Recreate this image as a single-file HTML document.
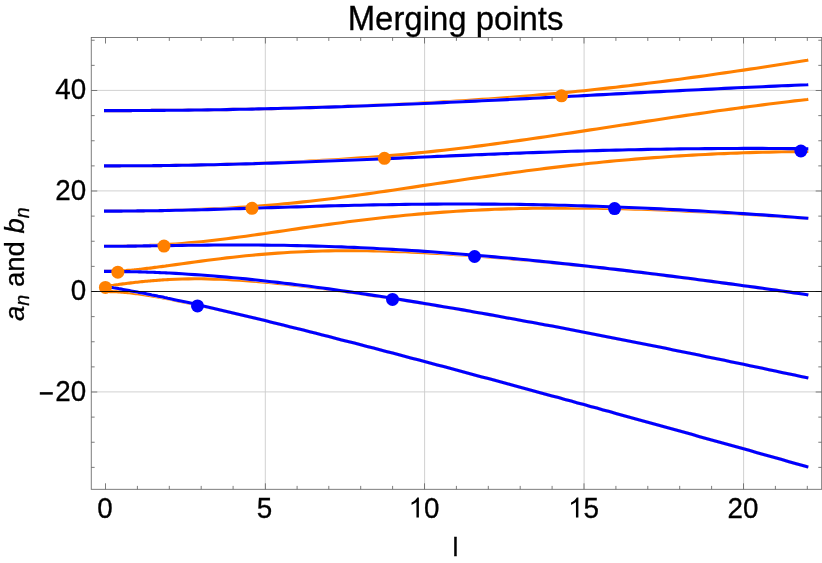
<!DOCTYPE html>
<html><head><meta charset="utf-8"><title>Merging points</title>
<style>
html,body{margin:0;padding:0;background:#fff;}
body{width:822px;height:563px;overflow:hidden;}
svg{display:block;will-change:transform;}
text{font-family:"Liberation Sans",sans-serif;fill:#000;stroke:#000;stroke-width:0.3px;}
</style></head><body>
<svg width="822" height="563" viewBox="0 0 822 563">
<rect x="0" y="0" width="822" height="563" fill="#fff"/>
<g stroke="#cccccc" stroke-width="0.9" fill="none"><line x1="265.30" y1="37.50" x2="265.30" y2="489.30"/><line x1="424.60" y1="37.50" x2="424.60" y2="489.30"/><line x1="584.10" y1="37.50" x2="584.10" y2="489.30"/><line x1="743.60" y1="37.50" x2="743.60" y2="489.30"/><line x1="91.25" y1="90.40" x2="821.70" y2="90.40"/><line x1="91.25" y1="190.90" x2="821.70" y2="190.90"/><line x1="91.25" y1="391.90" x2="821.70" y2="391.90"/></g>
<defs><g id="bl" fill="none" stroke-linecap="butt" stroke-linejoin="round">
<path d="M104.0,286.2 L105.5,286.5 L107.1,286.7 L108.7,287.0 L110.3,287.2 L111.9,287.5 L113.5,287.8 L115.1,288.0 L116.7,288.3 L118.3,288.6 L119.9,288.9 L121.5,289.1 L123.0,289.4 L124.6,289.7 L126.2,290.0 L127.8,290.3 L129.4,290.6 L131.0,290.9 L132.6,291.2 L134.2,291.5 L135.8,291.8 L137.4,292.1 L139.0,292.4 L140.6,292.7 L142.2,293.0 L143.8,293.3 L145.4,293.6 L147.0,293.9 L148.6,294.2 L150.2,294.5 L151.8,294.9 L153.3,295.2 L154.9,295.5 L156.5,295.8 L158.1,296.2 L159.7,296.5 L161.3,296.8 L162.9,297.1 L164.5,297.5 L166.1,297.8 L167.7,298.2 L169.3,298.5 L175.7,299.9 L182.1,301.2 L188.4,302.6 L194.8,304.1 L201.2,305.5 L207.6,307.0 L214.0,308.4 L220.3,309.9 L226.7,311.4 L233.1,312.9 L239.5,314.4 L245.9,315.9 L252.2,317.5 L258.6,319.0 L265.0,320.6 L271.4,322.2 L277.8,323.7 L284.1,325.3 L290.5,326.9 L296.9,328.5 L303.3,330.1 L309.7,331.7 L316.0,333.3 L322.4,335.0 L328.8,336.6 L335.2,338.2 L341.6,339.9 L347.9,341.5 L354.3,343.1 L360.7,344.8 L367.1,346.4 L373.5,348.1 L379.8,349.8 L386.2,351.4 L392.6,353.1 L399.0,354.8 L405.4,356.5 L411.7,358.2 L418.1,359.8 L424.5,361.5 L430.9,363.2 L437.3,364.9 L443.6,366.6 L450.0,368.3 L456.4,370.0 L462.8,371.7 L469.2,373.4 L475.5,375.2 L481.9,376.9 L488.3,378.6 L494.7,380.3 L501.1,382.0 L507.4,383.8 L513.8,385.5 L520.2,387.2 L526.6,389.0 L533.0,390.7 L539.3,392.4 L545.7,394.2 L552.1,395.9 L558.5,397.6 L564.9,399.4 L571.2,401.1 L577.6,402.9 L584.0,404.6 L590.4,406.4 L596.8,408.1 L603.1,409.9 L609.5,411.6 L615.9,413.4 L622.3,415.2 L628.7,416.9 L635.0,418.7 L641.4,420.4 L647.8,422.2 L654.2,424.0 L660.6,425.7 L666.9,427.5 L673.3,429.3 L679.7,431.1 L686.1,432.8 L692.5,434.6 L698.8,436.4 L705.2,438.2 L711.6,439.9 L718.0,441.7 L724.4,443.5 L730.7,445.3 L737.1,447.1 L743.5,448.8 L749.9,450.6 L756.3,452.4 L762.6,454.2 L769.0,456.0 L775.4,457.8 L781.8,459.6 L788.2,461.4 L794.5,463.2 L800.9,465.0 L807.3,466.8 L808.3,467.0"/>
<path d="M104.0,271.4 L105.5,271.4 L107.1,271.4 L108.7,271.4 L110.3,271.4 L111.9,271.4 L113.5,271.4 L115.1,271.4 L116.7,271.5 L118.3,271.5 L119.9,271.5 L121.5,271.5 L123.0,271.5 L124.6,271.6 L126.2,271.6 L127.8,271.6 L129.4,271.6 L131.0,271.7 L132.6,271.7 L134.2,271.7 L135.8,271.8 L137.4,271.8 L139.0,271.9 L140.6,271.9 L142.2,272.0 L143.8,272.0 L145.4,272.0 L147.0,272.1 L148.6,272.2 L150.2,272.2 L151.8,272.3 L153.3,272.3 L154.9,272.4 L156.5,272.5 L158.1,272.5 L159.7,272.6 L161.3,272.7 L162.9,272.7 L164.5,272.8 L166.1,272.9 L167.7,273.0 L169.3,273.0 L175.7,273.4 L182.1,273.8 L188.4,274.2 L194.8,274.6 L201.2,275.0 L207.6,275.5 L214.0,276.0 L220.3,276.6 L226.7,277.1 L233.1,277.7 L239.5,278.3 L245.9,278.9 L252.2,279.6 L258.6,280.3 L265.0,281.0 L271.4,281.7 L277.8,282.4 L284.1,283.2 L290.5,283.9 L296.9,284.7 L303.3,285.5 L309.7,286.3 L316.0,287.2 L322.4,288.0 L328.8,288.9 L335.2,289.8 L341.6,290.7 L347.9,291.6 L354.3,292.5 L360.7,293.5 L367.1,294.4 L373.5,295.4 L379.8,296.3 L386.2,297.3 L392.6,298.3 L399.0,299.3 L405.4,300.4 L411.7,301.4 L418.1,302.4 L424.5,303.5 L430.9,304.5 L437.3,305.6 L443.6,306.7 L450.0,307.8 L456.4,308.8 L462.8,309.9 L469.2,311.1 L475.5,312.2 L481.9,313.3 L488.3,314.4 L494.7,315.6 L501.1,316.7 L507.4,317.9 L513.8,319.0 L520.2,320.2 L526.6,321.4 L533.0,322.6 L539.3,323.7 L545.7,324.9 L552.1,326.1 L558.5,327.3 L564.9,328.5 L571.2,329.8 L577.6,331.0 L584.0,332.2 L590.4,333.4 L596.8,334.7 L603.1,335.9 L609.5,337.2 L615.9,338.4 L622.3,339.7 L628.7,340.9 L635.0,342.2 L641.4,343.5 L647.8,344.7 L654.2,346.0 L660.6,347.3 L666.9,348.6 L673.3,349.9 L679.7,351.2 L686.1,352.5 L692.5,353.8 L698.8,355.1 L705.2,356.4 L711.6,357.7 L718.0,359.0 L724.4,360.3 L730.7,361.7 L737.1,363.0 L743.5,364.3 L749.9,365.7 L756.3,367.0 L762.6,368.3 L769.0,369.7 L775.4,371.0 L781.8,372.4 L788.2,373.7 L794.5,375.1 L800.9,376.5 L807.3,377.8 L808.3,378.0"/>
<path d="M104.0,246.3 L105.5,246.3 L107.1,246.3 L108.7,246.3 L110.3,246.3 L111.9,246.3 L113.5,246.3 L115.1,246.2 L116.7,246.2 L118.3,246.2 L119.9,246.2 L121.5,246.2 L123.0,246.2 L124.6,246.2 L126.2,246.2 L127.8,246.1 L129.4,246.1 L131.0,246.1 L132.6,246.1 L134.2,246.1 L135.8,246.1 L137.4,246.0 L139.0,246.0 L140.6,246.0 L142.2,246.0 L143.8,245.9 L145.4,245.9 L147.0,245.9 L148.6,245.9 L150.2,245.9 L151.8,245.8 L153.3,245.8 L154.9,245.8 L156.5,245.8 L158.1,245.7 L159.7,245.7 L161.3,245.7 L162.9,245.7 L164.5,245.6 L166.1,245.6 L167.7,245.6 L169.3,245.6 L175.7,245.5 L182.1,245.4 L188.4,245.3 L194.8,245.2 L201.2,245.2 L207.6,245.1 L214.0,245.0 L220.3,245.0 L226.7,245.0 L233.1,245.0 L239.5,245.0 L245.9,245.0 L252.2,245.0 L258.6,245.0 L265.0,245.1 L271.4,245.2 L277.8,245.2 L284.1,245.3 L290.5,245.5 L296.9,245.6 L303.3,245.7 L309.7,245.9 L316.0,246.1 L322.4,246.3 L328.8,246.5 L335.2,246.7 L341.6,246.9 L347.9,247.2 L354.3,247.4 L360.7,247.7 L367.1,248.0 L373.5,248.3 L379.8,248.7 L386.2,249.0 L392.6,249.4 L399.0,249.7 L405.4,250.1 L411.7,250.5 L418.1,250.9 L424.5,251.4 L430.9,251.8 L437.3,252.3 L443.6,252.7 L450.0,253.2 L456.4,253.7 L462.8,254.2 L469.2,254.7 L475.5,255.2 L481.9,255.8 L488.3,256.3 L494.7,256.9 L501.1,257.5 L507.4,258.0 L513.8,258.6 L520.2,259.2 L526.6,259.8 L533.0,260.5 L539.3,261.1 L545.7,261.7 L552.1,262.4 L558.5,263.1 L564.9,263.7 L571.2,264.4 L577.6,265.1 L584.0,265.8 L590.4,266.5 L596.8,267.2 L603.1,267.9 L609.5,268.7 L615.9,269.4 L622.3,270.1 L628.7,270.9 L635.0,271.7 L641.4,272.4 L647.8,273.2 L654.2,274.0 L660.6,274.8 L666.9,275.6 L673.3,276.4 L679.7,277.2 L686.1,278.0 L692.5,278.8 L698.8,279.7 L705.2,280.5 L711.6,281.4 L718.0,282.2 L724.4,283.1 L730.7,283.9 L737.1,284.8 L743.5,285.7 L749.9,286.5 L756.3,287.4 L762.6,288.3 L769.0,289.2 L775.4,290.1 L781.8,291.0 L788.2,291.9 L794.5,292.9 L800.9,293.8 L807.3,294.7 L808.3,294.9"/>
<path d="M104.0,211.1 L105.5,211.1 L107.1,211.1 L108.7,211.1 L110.3,211.1 L111.9,211.1 L113.5,211.1 L115.1,211.1 L116.7,211.1 L118.3,211.1 L119.9,211.1 L121.5,211.1 L123.0,211.0 L124.6,211.0 L126.2,211.0 L127.8,211.0 L129.4,211.0 L131.0,211.0 L132.6,211.0 L134.2,211.0 L135.8,211.0 L137.4,210.9 L139.0,210.9 L140.6,210.9 L142.2,210.9 L143.8,210.9 L145.4,210.8 L147.0,210.8 L148.6,210.8 L150.2,210.8 L151.8,210.8 L153.3,210.7 L154.9,210.7 L156.5,210.7 L158.1,210.7 L159.7,210.6 L161.3,210.6 L162.9,210.6 L164.5,210.5 L166.1,210.5 L167.7,210.5 L169.3,210.5 L175.7,210.3 L182.1,210.2 L188.4,210.0 L194.8,209.9 L201.2,209.7 L207.6,209.6 L214.0,209.4 L220.3,209.2 L226.7,209.0 L233.1,208.8 L239.5,208.6 L245.9,208.4 L252.2,208.2 L258.6,208.0 L265.0,207.8 L271.4,207.6 L277.8,207.4 L284.1,207.2 L290.5,207.0 L296.9,206.9 L303.3,206.7 L309.7,206.5 L316.0,206.3 L322.4,206.1 L328.8,205.9 L335.2,205.8 L341.6,205.6 L347.9,205.5 L354.3,205.3 L360.7,205.2 L367.1,205.0 L373.5,204.9 L379.8,204.8 L386.2,204.7 L392.6,204.6 L399.0,204.5 L405.4,204.4 L411.7,204.3 L418.1,204.2 L424.5,204.2 L430.9,204.1 L437.3,204.1 L443.6,204.0 L450.0,204.0 L456.4,204.0 L462.8,204.0 L469.2,204.0 L475.5,204.0 L481.9,204.1 L488.3,204.1 L494.7,204.1 L501.1,204.2 L507.4,204.3 L513.8,204.3 L520.2,204.4 L526.6,204.5 L533.0,204.6 L539.3,204.8 L545.7,204.9 L552.1,205.0 L558.5,205.2 L564.9,205.3 L571.2,205.5 L577.6,205.7 L584.0,205.9 L590.4,206.1 L596.8,206.3 L603.1,206.5 L609.5,206.7 L615.9,207.0 L622.3,207.2 L628.7,207.5 L635.0,207.8 L641.4,208.0 L647.8,208.3 L654.2,208.6 L660.6,208.9 L666.9,209.2 L673.3,209.6 L679.7,209.9 L686.1,210.2 L692.5,210.6 L698.8,210.9 L705.2,211.3 L711.6,211.7 L718.0,212.0 L724.4,212.4 L730.7,212.8 L737.1,213.2 L743.5,213.6 L749.9,214.1 L756.3,214.5 L762.6,214.9 L769.0,215.4 L775.4,215.8 L781.8,216.3 L788.2,216.7 L794.5,217.2 L800.9,217.7 L807.3,218.2 L808.3,218.3"/>
<path d="M104.0,165.9 L105.5,165.9 L107.1,165.9 L108.7,165.9 L110.3,165.9 L111.9,165.9 L113.5,165.9 L115.1,165.9 L116.7,165.9 L118.3,165.9 L119.9,165.9 L121.5,165.8 L123.0,165.8 L124.6,165.8 L126.2,165.8 L127.8,165.8 L129.4,165.8 L131.0,165.8 L132.6,165.8 L134.2,165.8 L135.8,165.8 L137.4,165.8 L139.0,165.8 L140.6,165.7 L142.2,165.7 L143.8,165.7 L145.4,165.7 L147.0,165.7 L148.6,165.7 L150.2,165.7 L151.8,165.7 L153.3,165.6 L154.9,165.6 L156.5,165.6 L158.1,165.6 L159.7,165.6 L161.3,165.6 L162.9,165.5 L164.5,165.5 L166.1,165.5 L167.7,165.5 L169.3,165.5 L175.7,165.4 L182.1,165.3 L188.4,165.2 L194.8,165.1 L201.2,164.9 L207.6,164.8 L214.0,164.7 L220.3,164.5 L226.7,164.4 L233.1,164.2 L239.5,164.0 L245.9,163.9 L252.2,163.7 L258.6,163.5 L265.0,163.3 L271.4,163.1 L277.8,162.9 L284.1,162.7 L290.5,162.5 L296.9,162.2 L303.3,162.0 L309.7,161.8 L316.0,161.5 L322.4,161.3 L328.8,161.0 L335.2,160.8 L341.6,160.5 L347.9,160.3 L354.3,160.0 L360.7,159.7 L367.1,159.5 L373.5,159.2 L379.8,158.9 L386.2,158.7 L392.6,158.4 L399.0,158.1 L405.4,157.8 L411.7,157.6 L418.1,157.3 L424.5,157.0 L430.9,156.7 L437.3,156.4 L443.6,156.2 L450.0,155.9 L456.4,155.6 L462.8,155.4 L469.2,155.1 L475.5,154.8 L481.9,154.6 L488.3,154.3 L494.7,154.1 L501.1,153.8 L507.4,153.6 L513.8,153.3 L520.2,153.1 L526.6,152.8 L533.0,152.6 L539.3,152.4 L545.7,152.2 L552.1,152.0 L558.5,151.7 L564.9,151.5 L571.2,151.3 L577.6,151.1 L584.0,151.0 L590.4,150.8 L596.8,150.6 L603.1,150.4 L609.5,150.3 L615.9,150.1 L622.3,150.0 L628.7,149.8 L635.0,149.7 L641.4,149.6 L647.8,149.4 L654.2,149.3 L660.6,149.2 L666.9,149.1 L673.3,149.0 L679.7,148.9 L686.1,148.8 L692.5,148.8 L698.8,148.7 L705.2,148.6 L711.6,148.6 L718.0,148.5 L724.4,148.5 L730.7,148.5 L737.1,148.5 L743.5,148.4 L749.9,148.4 L756.3,148.4 L762.6,148.4 L769.0,148.5 L775.4,148.5 L781.8,148.5 L788.2,148.6 L794.5,148.6 L800.9,148.7 L807.3,148.7 L808.3,148.7"/>
<path d="M104.0,110.6 L105.5,110.6 L107.1,110.6 L108.7,110.6 L110.3,110.6 L111.9,110.6 L113.5,110.6 L115.1,110.6 L116.7,110.6 L118.3,110.6 L119.9,110.6 L121.5,110.6 L123.0,110.6 L124.6,110.6 L126.2,110.6 L127.8,110.6 L129.4,110.6 L131.0,110.6 L132.6,110.5 L134.2,110.5 L135.8,110.5 L137.4,110.5 L139.0,110.5 L140.6,110.5 L142.2,110.5 L143.8,110.5 L145.4,110.5 L147.0,110.5 L148.6,110.5 L150.2,110.5 L151.8,110.4 L153.3,110.4 L154.9,110.4 L156.5,110.4 L158.1,110.4 L159.7,110.4 L161.3,110.4 L162.9,110.4 L164.5,110.4 L166.1,110.3 L167.7,110.3 L169.3,110.3 L175.7,110.3 L182.1,110.2 L188.4,110.1 L194.8,110.0 L201.2,110.0 L207.6,109.9 L214.0,109.8 L220.3,109.7 L226.7,109.6 L233.1,109.4 L239.5,109.3 L245.9,109.2 L252.2,109.1 L258.6,108.9 L265.0,108.8 L271.4,108.6 L277.8,108.5 L284.1,108.3 L290.5,108.2 L296.9,108.0 L303.3,107.8 L309.7,107.6 L316.0,107.5 L322.4,107.3 L328.8,107.1 L335.2,106.9 L341.6,106.7 L347.9,106.4 L354.3,106.2 L360.7,106.0 L367.1,105.8 L373.5,105.5 L379.8,105.3 L386.2,105.0 L392.6,104.8 L399.0,104.5 L405.4,104.3 L411.7,104.0 L418.1,103.7 L424.5,103.5 L430.9,103.2 L437.3,102.9 L443.6,102.6 L450.0,102.3 L456.4,102.0 L462.8,101.7 L469.2,101.4 L475.5,101.1 L481.9,100.8 L488.3,100.5 L494.7,100.2 L501.1,99.9 L507.4,99.6 L513.8,99.3 L520.2,98.9 L526.6,98.6 L533.0,98.3 L539.3,98.0 L545.7,97.6 L552.1,97.3 L558.5,97.0 L564.9,96.6 L571.2,96.3 L577.6,96.0 L584.0,95.6 L590.4,95.3 L596.8,94.9 L603.1,94.6 L609.5,94.3 L615.9,93.9 L622.3,93.6 L628.7,93.3 L635.0,92.9 L641.4,92.6 L647.8,92.3 L654.2,91.9 L660.6,91.6 L666.9,91.3 L673.3,91.0 L679.7,90.6 L686.1,90.3 L692.5,90.0 L698.8,89.7 L705.2,89.4 L711.6,89.1 L718.0,88.7 L724.4,88.4 L730.7,88.1 L737.1,87.8 L743.5,87.5 L749.9,87.2 L756.3,87.0 L762.6,86.7 L769.0,86.4 L775.4,86.1 L781.8,85.8 L788.2,85.6 L794.5,85.3 L800.9,85.0 L807.3,84.8 L808.3,84.7"/>
</g>
<mask id="mk" maskUnits="userSpaceOnUse" x="0" y="0" width="822" height="563"><rect x="0" y="0" width="822" height="563" fill="#fff"/><use href="#bl" stroke="#000" stroke-width="3.4"/></mask></defs>
<g mask="url(#mk)" fill="none" stroke="#ff8000" stroke-width="3.1" stroke-linecap="butt" stroke-linejoin="round"><path d="M104.0,291.5 L105.5,291.5 L107.1,291.5 L108.7,291.5 L110.3,291.6 L111.9,291.6 L113.5,291.7 L115.1,291.7 L116.7,291.8 L118.3,291.9 L119.9,292.0 L121.5,292.1 L123.0,292.2 L124.6,292.4 L126.2,292.5 L127.8,292.7 L129.4,292.8 L131.0,293.0 L132.6,293.2 L134.2,293.4 L135.8,293.6 L137.4,293.8 L139.0,294.0 L140.6,294.2 L142.2,294.4 L143.8,294.7 L145.4,294.9 L147.0,295.2 L148.6,295.4 L150.2,295.7 L151.8,295.9 L153.3,296.2 L154.9,296.5 L156.5,296.8 L158.1,297.0 L159.7,297.3 L161.3,297.6 L162.9,297.9 L164.5,298.2 L166.1,298.5 L167.7,298.8 L169.3,299.1 L175.7,300.4 L182.1,301.7 L188.4,303.0 L194.8,304.4 L201.2,305.7 L207.6,307.2 L214.0,308.6 L220.3,310.0 L226.7,311.5 L233.1,313.0 L239.5,314.5 L245.9,316.0 L252.2,317.6 L258.6,319.1 L265.0,320.6 L271.4,322.2 L277.8,323.8 L284.1,325.4 L290.5,326.9 L296.9,328.5 L303.3,330.1 L309.7,331.7 L316.0,333.3 L322.4,335.0 L328.8,336.6 L335.2,338.2 L341.6,339.9 L347.9,341.5 L354.3,343.1 L360.7,344.8 L367.1,346.5 L373.5,348.1 L379.8,349.8 L386.2,351.4 L392.6,353.1 L399.0,354.8 L405.4,356.5 L411.7,358.2 L418.1,359.8 L424.5,361.5 L430.9,363.2 L437.3,364.9 L443.6,366.6 L450.0,368.3 L456.4,370.0 L462.8,371.7 L469.2,373.4 L475.5,375.2 L481.9,376.9 L488.3,378.6 L494.7,380.3 L501.1,382.0 L507.4,383.8 L513.8,385.5 L520.2,387.2 L526.6,389.0 L533.0,390.7 L539.3,392.4 L545.7,394.2 L552.1,395.9 L558.5,397.6 L564.9,399.4 L571.2,401.1 L577.6,402.9 L584.0,404.6 L590.4,406.4 L596.8,408.1 L603.1,409.9 L609.5,411.6 L615.9,413.4 L622.3,415.2 L628.7,416.9 L635.0,418.7 L641.4,420.4 L647.8,422.2 L654.2,424.0 L660.6,425.7 L666.9,427.5 L673.3,429.3 L679.7,431.1 L686.1,432.8 L692.5,434.6 L698.8,436.4 L705.2,438.2 L711.6,439.9 L718.0,441.7 L724.4,443.5 L730.7,445.3 L737.1,447.1 L743.5,448.8 L749.9,450.6 L756.3,452.4 L762.6,454.2 L769.0,456.0 L775.4,457.8 L781.8,459.6 L788.2,461.4 L794.5,463.2 L800.9,465.0 L807.3,466.8 L808.3,467.0"/>
<path d="M104.0,286.7 L105.5,286.5 L107.1,286.2 L108.7,286.0 L110.3,285.7 L111.9,285.5 L113.5,285.3 L115.1,285.0 L116.7,284.8 L118.3,284.6 L119.9,284.3 L121.5,284.1 L123.0,283.9 L124.6,283.7 L126.2,283.5 L127.8,283.3 L129.4,283.1 L131.0,282.9 L132.6,282.7 L134.2,282.5 L135.8,282.3 L137.4,282.2 L139.0,282.0 L140.6,281.8 L142.2,281.6 L143.8,281.5 L145.4,281.3 L147.0,281.2 L148.6,281.0 L150.2,280.9 L151.8,280.7 L153.3,280.6 L154.9,280.5 L156.5,280.4 L158.1,280.2 L159.7,280.1 L161.3,280.0 L162.9,279.9 L164.5,279.8 L166.1,279.7 L167.7,279.6 L169.3,279.5 L175.7,279.3 L182.1,279.0 L188.4,278.9 L194.8,278.8 L201.2,278.8 L207.6,278.9 L214.0,279.1 L220.3,279.3 L226.7,279.5 L233.1,279.9 L239.5,280.2 L245.9,280.6 L252.2,281.1 L258.6,281.6 L265.0,282.2 L271.4,282.7 L277.8,283.4 L284.1,284.0 L290.5,284.7 L296.9,285.4 L303.3,286.1 L309.7,286.9 L316.0,287.7 L322.4,288.5 L328.8,289.3 L335.2,290.1 L341.6,291.0 L347.9,291.9 L354.3,292.8 L360.7,293.7 L367.1,294.6 L373.5,295.6 L379.8,296.5 L386.2,297.5 L392.6,298.5 L399.0,299.5 L405.4,300.5 L411.7,301.5 L418.1,302.5 L424.5,303.6 L430.9,304.6 L437.3,305.7 L443.6,306.7 L450.0,307.8 L456.4,308.9 L462.8,310.0 L469.2,311.1 L475.5,312.2 L481.9,313.3 L488.3,314.5 L494.7,315.6 L501.1,316.7 L507.4,317.9 L513.8,319.1 L520.2,320.2 L526.6,321.4 L533.0,322.6 L539.3,323.8 L545.7,324.9 L552.1,326.1 L558.5,327.3 L564.9,328.5 L571.2,329.8 L577.6,331.0 L584.0,332.2 L590.4,333.4 L596.8,334.7 L603.1,335.9 L609.5,337.2 L615.9,338.4 L622.3,339.7 L628.7,340.9 L635.0,342.2 L641.4,343.5 L647.8,344.7 L654.2,346.0 L660.6,347.3 L666.9,348.6 L673.3,349.9 L679.7,351.2 L686.1,352.5 L692.5,353.8 L698.8,355.1 L705.2,356.4 L711.6,357.7 L718.0,359.0 L724.4,360.3 L730.7,361.7 L737.1,363.0 L743.5,364.3 L749.9,365.7 L756.3,367.0 L762.6,368.3 L769.0,369.7 L775.4,371.0 L781.8,372.4 L788.2,373.7 L794.5,375.1 L800.9,376.5 L807.3,377.8 L808.3,378.0"/>
<path d="M104.0,271.4 L105.5,271.4 L107.1,271.4 L108.7,271.4 L110.3,271.4 L111.9,271.3 L113.5,271.3 L115.1,271.2 L116.7,271.1 L118.3,271.1 L119.9,271.0 L121.5,270.9 L123.0,270.8 L124.6,270.7 L126.2,270.6 L127.8,270.4 L129.4,270.3 L131.0,270.2 L132.6,270.0 L134.2,269.9 L135.8,269.7 L137.4,269.5 L139.0,269.4 L140.6,269.2 L142.2,269.0 L143.8,268.8 L145.4,268.6 L147.0,268.4 L148.6,268.3 L150.2,268.1 L151.8,267.9 L153.3,267.6 L154.9,267.4 L156.5,267.2 L158.1,267.0 L159.7,266.8 L161.3,266.6 L162.9,266.4 L164.5,266.2 L166.1,265.9 L167.7,265.7 L169.3,265.5 L175.7,264.6 L182.1,263.7 L188.4,262.9 L194.8,262.0 L201.2,261.1 L207.6,260.3 L214.0,259.5 L220.3,258.7 L226.7,257.9 L233.1,257.2 L239.5,256.5 L245.9,255.8 L252.2,255.2 L258.6,254.6 L265.0,254.1 L271.4,253.6 L277.8,253.1 L284.1,252.7 L290.5,252.3 L296.9,252.0 L303.3,251.7 L309.7,251.4 L316.0,251.2 L322.4,251.0 L328.8,250.9 L335.2,250.8 L341.6,250.7 L347.9,250.7 L354.3,250.7 L360.7,250.7 L367.1,250.8 L373.5,250.9 L379.8,251.0 L386.2,251.2 L392.6,251.4 L399.0,251.6 L405.4,251.8 L411.7,252.1 L418.1,252.4 L424.5,252.7 L430.9,253.1 L437.3,253.4 L443.6,253.8 L450.0,254.2 L456.4,254.6 L462.8,255.0 L469.2,255.5 L475.5,256.0 L481.9,256.4 L488.3,256.9 L494.7,257.4 L501.1,258.0 L507.4,258.5 L513.8,259.1 L520.2,259.6 L526.6,260.2 L533.0,260.8 L539.3,261.4 L545.7,262.0 L552.1,262.7 L558.5,263.3 L564.9,264.0 L571.2,264.6 L577.6,265.3 L584.0,266.0 L590.4,266.7 L596.8,267.4 L603.1,268.1 L609.5,268.8 L615.9,269.5 L622.3,270.3 L628.7,271.0 L635.0,271.8 L641.4,272.5 L647.8,273.3 L654.2,274.1 L660.6,274.9 L666.9,275.7 L673.3,276.5 L679.7,277.3 L686.1,278.1 L692.5,278.9 L698.8,279.7 L705.2,280.6 L711.6,281.4 L718.0,282.2 L724.4,283.1 L730.7,284.0 L737.1,284.8 L743.5,285.7 L749.9,286.6 L756.3,287.5 L762.6,288.4 L769.0,289.2 L775.4,290.1 L781.8,291.1 L788.2,292.0 L794.5,292.9 L800.9,293.8 L807.3,294.7 L808.3,294.9"/>
<path d="M104.0,246.3 L105.5,246.3 L107.1,246.3 L108.7,246.3 L110.3,246.3 L111.9,246.3 L113.5,246.3 L115.1,246.2 L116.7,246.2 L118.3,246.2 L119.9,246.2 L121.5,246.2 L123.0,246.2 L124.6,246.1 L126.2,246.1 L127.8,246.1 L129.4,246.1 L131.0,246.0 L132.6,246.0 L134.2,246.0 L135.8,245.9 L137.4,245.9 L139.0,245.8 L140.6,245.8 L142.2,245.7 L143.8,245.7 L145.4,245.6 L147.0,245.6 L148.6,245.5 L150.2,245.4 L151.8,245.4 L153.3,245.3 L154.9,245.2 L156.5,245.2 L158.1,245.1 L159.7,245.0 L161.3,244.9 L162.9,244.8 L164.5,244.7 L166.1,244.6 L167.7,244.5 L169.3,244.4 L175.7,244.0 L182.1,243.5 L188.4,242.9 L194.8,242.3 L201.2,241.7 L207.6,241.0 L214.0,240.3 L220.3,239.5 L226.7,238.7 L233.1,237.9 L239.5,237.0 L245.9,236.2 L252.2,235.3 L258.6,234.4 L265.0,233.5 L271.4,232.5 L277.8,231.6 L284.1,230.7 L290.5,229.8 L296.9,228.9 L303.3,227.9 L309.7,227.0 L316.0,226.1 L322.4,225.2 L328.8,224.4 L335.2,223.5 L341.6,222.7 L347.9,221.8 L354.3,221.0 L360.7,220.2 L367.1,219.5 L373.5,218.7 L379.8,218.0 L386.2,217.3 L392.6,216.6 L399.0,216.0 L405.4,215.3 L411.7,214.7 L418.1,214.1 L424.5,213.6 L430.9,213.1 L437.3,212.6 L443.6,212.1 L450.0,211.7 L456.4,211.3 L462.8,210.9 L469.2,210.5 L475.5,210.2 L481.9,209.9 L488.3,209.6 L494.7,209.3 L501.1,209.1 L507.4,208.9 L513.8,208.7 L520.2,208.5 L526.6,208.4 L533.0,208.3 L539.3,208.2 L545.7,208.1 L552.1,208.1 L558.5,208.1 L564.9,208.1 L571.2,208.1 L577.6,208.1 L584.0,208.1 L590.4,208.2 L596.8,208.3 L603.1,208.4 L609.5,208.5 L615.9,208.7 L622.3,208.8 L628.7,209.0 L635.0,209.1 L641.4,209.3 L647.8,209.5 L654.2,209.8 L660.6,210.0 L666.9,210.3 L673.3,210.5 L679.7,210.8 L686.1,211.1 L692.5,211.4 L698.8,211.7 L705.2,212.0 L711.6,212.3 L718.0,212.7 L724.4,213.0 L730.7,213.4 L737.1,213.8 L743.5,214.1 L749.9,214.5 L756.3,214.9 L762.6,215.3 L769.0,215.8 L775.4,216.2 L781.8,216.6 L788.2,217.1 L794.5,217.5 L800.9,218.0 L807.3,218.4 L808.3,218.5"/>
<path d="M104.0,211.1 L105.5,211.1 L107.1,211.1 L108.7,211.1 L110.3,211.1 L111.9,211.1 L113.5,211.1 L115.1,211.1 L116.7,211.1 L118.3,211.1 L119.9,211.1 L121.5,211.1 L123.0,211.0 L124.6,211.0 L126.2,211.0 L127.8,211.0 L129.4,211.0 L131.0,211.0 L132.6,211.0 L134.2,211.0 L135.8,210.9 L137.4,210.9 L139.0,210.9 L140.6,210.9 L142.2,210.9 L143.8,210.9 L145.4,210.8 L147.0,210.8 L148.6,210.8 L150.2,210.8 L151.8,210.7 L153.3,210.7 L154.9,210.7 L156.5,210.7 L158.1,210.6 L159.7,210.6 L161.3,210.6 L162.9,210.5 L164.5,210.5 L166.1,210.5 L167.7,210.4 L169.3,210.4 L175.7,210.2 L182.1,210.1 L188.4,209.9 L194.8,209.6 L201.2,209.4 L207.6,209.1 L214.0,208.8 L220.3,208.5 L226.7,208.2 L233.1,207.8 L239.5,207.4 L245.9,207.0 L252.2,206.6 L258.6,206.1 L265.0,205.6 L271.4,205.1 L277.8,204.5 L284.1,203.9 L290.5,203.3 L296.9,202.6 L303.3,201.9 L309.7,201.2 L316.0,200.5 L322.4,199.7 L328.8,199.0 L335.2,198.2 L341.6,197.3 L347.9,196.5 L354.3,195.6 L360.7,194.8 L367.1,193.9 L373.5,193.0 L379.8,192.0 L386.2,191.1 L392.6,190.2 L399.0,189.3 L405.4,188.3 L411.7,187.4 L418.1,186.4 L424.5,185.4 L430.9,184.5 L437.3,183.5 L443.6,182.6 L450.0,181.6 L456.4,180.7 L462.8,179.8 L469.2,178.8 L475.5,177.9 L481.9,177.0 L488.3,176.1 L494.7,175.2 L501.1,174.3 L507.4,173.4 L513.8,172.5 L520.2,171.7 L526.6,170.8 L533.0,170.0 L539.3,169.2 L545.7,168.4 L552.1,167.6 L558.5,166.9 L564.9,166.1 L571.2,165.4 L577.6,164.7 L584.0,164.0 L590.4,163.3 L596.8,162.7 L603.1,162.0 L609.5,161.4 L615.9,160.8 L622.3,160.2 L628.7,159.7 L635.0,159.1 L641.4,158.6 L647.8,158.1 L654.2,157.6 L660.6,157.2 L666.9,156.7 L673.3,156.3 L679.7,155.9 L686.1,155.5 L692.5,155.1 L698.8,154.8 L705.2,154.5 L711.6,154.1 L718.0,153.8 L724.4,153.6 L730.7,153.3 L737.1,153.1 L743.5,152.8 L749.9,152.6 L756.3,152.4 L762.6,152.3 L769.0,152.1 L775.4,151.9 L781.8,151.8 L788.2,151.7 L794.5,151.6 L800.9,151.5 L807.3,151.4 L808.3,151.4"/>
<path d="M104.0,165.9 L105.5,165.9 L107.1,165.9 L108.7,165.9 L110.3,165.9 L111.9,165.9 L113.5,165.9 L115.1,165.9 L116.7,165.9 L118.3,165.9 L119.9,165.9 L121.5,165.8 L123.0,165.8 L124.6,165.8 L126.2,165.8 L127.8,165.8 L129.4,165.8 L131.0,165.8 L132.6,165.8 L134.2,165.8 L135.8,165.8 L137.4,165.8 L139.0,165.8 L140.6,165.7 L142.2,165.7 L143.8,165.7 L145.4,165.7 L147.0,165.7 L148.6,165.7 L150.2,165.7 L151.8,165.7 L153.3,165.6 L154.9,165.6 L156.5,165.6 L158.1,165.6 L159.7,165.6 L161.3,165.6 L162.9,165.5 L164.5,165.5 L166.1,165.5 L167.7,165.5 L169.3,165.5 L175.7,165.4 L182.1,165.3 L188.4,165.2 L194.8,165.0 L201.2,164.9 L207.6,164.8 L214.0,164.6 L220.3,164.5 L226.7,164.3 L233.1,164.1 L239.5,164.0 L245.9,163.8 L252.2,163.6 L258.6,163.3 L265.0,163.1 L271.4,162.9 L277.8,162.6 L284.1,162.3 L290.5,162.1 L296.9,161.8 L303.3,161.5 L309.7,161.1 L316.0,160.8 L322.4,160.4 L328.8,160.1 L335.2,159.7 L341.6,159.3 L347.9,158.8 L354.3,158.4 L360.7,157.9 L367.1,157.5 L373.5,157.0 L379.8,156.5 L386.2,155.9 L392.6,155.4 L399.0,154.8 L405.4,154.2 L411.7,153.6 L418.1,152.9 L424.5,152.3 L430.9,151.6 L437.3,150.9 L443.6,150.2 L450.0,149.5 L456.4,148.7 L462.8,148.0 L469.2,147.2 L475.5,146.4 L481.9,145.6 L488.3,144.7 L494.7,143.9 L501.1,143.0 L507.4,142.1 L513.8,141.3 L520.2,140.4 L526.6,139.5 L533.0,138.5 L539.3,137.6 L545.7,136.7 L552.1,135.7 L558.5,134.8 L564.9,133.8 L571.2,132.9 L577.6,131.9 L584.0,130.9 L590.4,129.9 L596.8,129.0 L603.1,128.0 L609.5,127.0 L615.9,126.0 L622.3,125.0 L628.7,124.1 L635.0,123.1 L641.4,122.1 L647.8,121.1 L654.2,120.2 L660.6,119.2 L666.9,118.3 L673.3,117.3 L679.7,116.4 L686.1,115.4 L692.5,114.5 L698.8,113.6 L705.2,112.7 L711.6,111.7 L718.0,110.8 L724.4,110.0 L730.7,109.1 L737.1,108.2 L743.5,107.4 L749.9,106.5 L756.3,105.7 L762.6,104.9 L769.0,104.0 L775.4,103.3 L781.8,102.5 L788.2,101.7 L794.5,100.9 L800.9,100.2 L807.3,99.5 L808.3,99.3"/>
<path d="M104.0,110.6 L105.5,110.6 L107.1,110.6 L108.7,110.6 L110.3,110.6 L111.9,110.6 L113.5,110.6 L115.1,110.6 L116.7,110.6 L118.3,110.6 L119.9,110.6 L121.5,110.6 L123.0,110.6 L124.6,110.6 L126.2,110.6 L127.8,110.6 L129.4,110.6 L131.0,110.6 L132.6,110.5 L134.2,110.5 L135.8,110.5 L137.4,110.5 L139.0,110.5 L140.6,110.5 L142.2,110.5 L143.8,110.5 L145.4,110.5 L147.0,110.5 L148.6,110.5 L150.2,110.5 L151.8,110.4 L153.3,110.4 L154.9,110.4 L156.5,110.4 L158.1,110.4 L159.7,110.4 L161.3,110.4 L162.9,110.4 L164.5,110.4 L166.1,110.3 L167.7,110.3 L169.3,110.3 L175.7,110.3 L182.1,110.2 L188.4,110.1 L194.8,110.0 L201.2,110.0 L207.6,109.9 L214.0,109.8 L220.3,109.7 L226.7,109.6 L233.1,109.4 L239.5,109.3 L245.9,109.2 L252.2,109.1 L258.6,108.9 L265.0,108.8 L271.4,108.6 L277.8,108.5 L284.1,108.3 L290.5,108.1 L296.9,108.0 L303.3,107.8 L309.7,107.6 L316.0,107.4 L322.4,107.2 L328.8,107.0 L335.2,106.8 L341.6,106.5 L347.9,106.3 L354.3,106.1 L360.7,105.8 L367.1,105.6 L373.5,105.3 L379.8,105.0 L386.2,104.8 L392.6,104.5 L399.0,104.2 L405.4,103.9 L411.7,103.6 L418.1,103.2 L424.5,102.9 L430.9,102.5 L437.3,102.2 L443.6,101.8 L450.0,101.5 L456.4,101.1 L462.8,100.7 L469.2,100.3 L475.5,99.8 L481.9,99.4 L488.3,99.0 L494.7,98.5 L501.1,98.0 L507.4,97.5 L513.8,97.0 L520.2,96.5 L526.6,96.0 L533.0,95.5 L539.3,94.9 L545.7,94.4 L552.1,93.8 L558.5,93.2 L564.9,92.6 L571.2,92.0 L577.6,91.3 L584.0,90.7 L590.4,90.0 L596.8,89.3 L603.1,88.6 L609.5,87.9 L615.9,87.2 L622.3,86.4 L628.7,85.7 L635.0,84.9 L641.4,84.1 L647.8,83.3 L654.2,82.5 L660.6,81.7 L666.9,80.9 L673.3,80.0 L679.7,79.2 L686.1,78.3 L692.5,77.4 L698.8,76.6 L705.2,75.7 L711.6,74.8 L718.0,73.8 L724.4,72.9 L730.7,72.0 L737.1,71.0 L743.5,70.1 L749.9,69.1 L756.3,68.2 L762.6,67.2 L769.0,66.2 L775.4,65.2 L781.8,64.3 L788.2,63.3 L794.5,62.3 L800.9,61.3 L807.3,60.3 L808.3,60.1"/>
</g>
<use href="#bl" stroke="#0000ff" stroke-width="3.1"/>
<g fill="#ff8000"><circle cx="105.40" cy="287.40" r="6.5"/><circle cx="117.84" cy="272.20" r="6.5"/><circle cx="163.97" cy="246.10" r="6.5"/><circle cx="251.97" cy="208.30" r="6.5"/><circle cx="384.40" cy="158.30" r="6.5"/><circle cx="561.50" cy="95.80" r="6.5"/></g>
<g fill="#0000ff"><circle cx="197.50" cy="305.90" r="6.5"/><circle cx="392.50" cy="299.40" r="6.5"/><circle cx="474.57" cy="256.50" r="6.5"/><circle cx="614.57" cy="208.60" r="6.5"/><circle cx="800.90" cy="151.00" r="6.5"/></g>
<g stroke="#666666" stroke-width="0.85" fill="none"><rect x="91.25" y="37.50" width="730.45" height="451.80"/></g>
<g stroke="#666666" stroke-width="0.85" fill="none"><line x1="105.50" y1="489.30" x2="105.50" y2="483.30"/><line x1="105.50" y1="37.50" x2="105.50" y2="43.50"/><line x1="137.40" y1="489.30" x2="137.40" y2="485.90"/><line x1="137.40" y1="37.50" x2="137.40" y2="40.90"/><line x1="169.30" y1="489.30" x2="169.30" y2="485.90"/><line x1="169.30" y1="37.50" x2="169.30" y2="40.90"/><line x1="201.20" y1="489.30" x2="201.20" y2="485.90"/><line x1="201.20" y1="37.50" x2="201.20" y2="40.90"/><line x1="233.10" y1="489.30" x2="233.10" y2="485.90"/><line x1="233.10" y1="37.50" x2="233.10" y2="40.90"/><line x1="265.40" y1="489.30" x2="265.40" y2="483.30"/><line x1="265.40" y1="37.50" x2="265.40" y2="43.50"/><line x1="297.10" y1="489.30" x2="297.10" y2="485.90"/><line x1="297.10" y1="37.50" x2="297.10" y2="40.90"/><line x1="328.80" y1="489.30" x2="328.80" y2="485.90"/><line x1="328.80" y1="37.50" x2="328.80" y2="40.90"/><line x1="360.70" y1="489.30" x2="360.70" y2="485.90"/><line x1="360.70" y1="37.50" x2="360.70" y2="40.90"/><line x1="392.60" y1="489.30" x2="392.60" y2="485.90"/><line x1="392.60" y1="37.50" x2="392.60" y2="40.90"/><line x1="424.50" y1="489.30" x2="424.50" y2="483.30"/><line x1="424.50" y1="37.50" x2="424.50" y2="43.50"/><line x1="456.40" y1="489.30" x2="456.40" y2="485.90"/><line x1="456.40" y1="37.50" x2="456.40" y2="40.90"/><line x1="488.30" y1="489.30" x2="488.30" y2="485.90"/><line x1="488.30" y1="37.50" x2="488.30" y2="40.90"/><line x1="520.20" y1="489.30" x2="520.20" y2="485.90"/><line x1="520.20" y1="37.50" x2="520.20" y2="40.90"/><line x1="552.10" y1="489.30" x2="552.10" y2="485.90"/><line x1="552.10" y1="37.50" x2="552.10" y2="40.90"/><line x1="584.00" y1="489.30" x2="584.00" y2="483.30"/><line x1="584.00" y1="37.50" x2="584.00" y2="43.50"/><line x1="615.90" y1="489.30" x2="615.90" y2="485.90"/><line x1="615.90" y1="37.50" x2="615.90" y2="40.90"/><line x1="647.80" y1="489.30" x2="647.80" y2="485.90"/><line x1="647.80" y1="37.50" x2="647.80" y2="40.90"/><line x1="679.70" y1="489.30" x2="679.70" y2="485.90"/><line x1="679.70" y1="37.50" x2="679.70" y2="40.90"/><line x1="711.60" y1="489.30" x2="711.60" y2="485.90"/><line x1="711.60" y1="37.50" x2="711.60" y2="40.90"/><line x1="743.50" y1="489.30" x2="743.50" y2="483.30"/><line x1="743.50" y1="37.50" x2="743.50" y2="43.50"/><line x1="775.40" y1="489.30" x2="775.40" y2="485.90"/><line x1="775.40" y1="37.50" x2="775.40" y2="40.90"/><line x1="807.30" y1="489.30" x2="807.30" y2="485.90"/><line x1="807.30" y1="37.50" x2="807.30" y2="40.90"/><line x1="91.25" y1="467.38" x2="94.65" y2="467.38"/><line x1="821.70" y1="467.38" x2="818.30" y2="467.38"/><line x1="91.25" y1="442.25" x2="94.65" y2="442.25"/><line x1="821.70" y1="442.25" x2="818.30" y2="442.25"/><line x1="91.25" y1="417.12" x2="94.65" y2="417.12"/><line x1="821.70" y1="417.12" x2="818.30" y2="417.12"/><line x1="91.25" y1="392.00" x2="97.25" y2="392.00"/><line x1="821.70" y1="392.00" x2="815.70" y2="392.00"/><line x1="91.25" y1="366.88" x2="94.65" y2="366.88"/><line x1="821.70" y1="366.88" x2="818.30" y2="366.88"/><line x1="91.25" y1="341.75" x2="94.65" y2="341.75"/><line x1="821.70" y1="341.75" x2="818.30" y2="341.75"/><line x1="91.25" y1="316.62" x2="94.65" y2="316.62"/><line x1="821.70" y1="316.62" x2="818.30" y2="316.62"/><line x1="91.25" y1="291.50" x2="97.25" y2="291.50"/><line x1="821.70" y1="291.50" x2="815.70" y2="291.50"/><line x1="91.25" y1="266.38" x2="94.65" y2="266.38"/><line x1="821.70" y1="266.38" x2="818.30" y2="266.38"/><line x1="91.25" y1="241.25" x2="94.65" y2="241.25"/><line x1="821.70" y1="241.25" x2="818.30" y2="241.25"/><line x1="91.25" y1="216.12" x2="94.65" y2="216.12"/><line x1="821.70" y1="216.12" x2="818.30" y2="216.12"/><line x1="91.25" y1="191.00" x2="97.25" y2="191.00"/><line x1="821.70" y1="191.00" x2="815.70" y2="191.00"/><line x1="91.25" y1="165.88" x2="94.65" y2="165.88"/><line x1="821.70" y1="165.88" x2="818.30" y2="165.88"/><line x1="91.25" y1="140.75" x2="94.65" y2="140.75"/><line x1="821.70" y1="140.75" x2="818.30" y2="140.75"/><line x1="91.25" y1="115.62" x2="94.65" y2="115.62"/><line x1="821.70" y1="115.62" x2="818.30" y2="115.62"/><line x1="91.25" y1="90.50" x2="97.25" y2="90.50"/><line x1="821.70" y1="90.50" x2="815.70" y2="90.50"/><line x1="91.25" y1="65.37" x2="94.65" y2="65.37"/><line x1="821.70" y1="65.37" x2="818.30" y2="65.37"/><line x1="91.25" y1="40.25" x2="94.65" y2="40.25"/><line x1="821.70" y1="40.25" x2="818.30" y2="40.25"/></g>
<line x1="91.2" y1="291.5" x2="821.7" y2="291.5" stroke="#000" stroke-width="0.9"/>
<text transform="translate(97.27,517.50) scale(1,1.035)" font-size="27.8" text-anchor="start">0</text>
<text transform="translate(256.77,517.50) scale(1,1.035)" font-size="27.8" text-anchor="start">5</text>
<path transform="translate(408.54,517.50) scale(0.01357,-0.01357)" d="M763 0H583V1147Q518 1085 412.5 1023T223 930V1104Q374 1175 487 1276T647 1472H763Z" fill="#000"/>
<text transform="translate(424.00,517.50) scale(1,1.035)" font-size="27.8" text-anchor="start">0</text>
<path transform="translate(568.04,517.50) scale(0.01357,-0.01357)" d="M763 0H583V1147Q518 1085 412.5 1023T223 930V1104Q374 1175 487 1276T647 1472H763Z" fill="#000"/>
<text transform="translate(583.50,517.50) scale(1,1.035)" font-size="27.8" text-anchor="start">5</text>
<text transform="translate(727.54,517.50) scale(1,1.035)" font-size="27.8" text-anchor="start">2</text>
<text transform="translate(743.00,517.50) scale(1,1.035)" font-size="27.8" text-anchor="start">0</text>
<text transform="translate(86.20,98.80) scale(1,1.035)" font-size="27.8" text-anchor="end">40</text>
<text transform="translate(86.20,199.53) scale(1,1.035)" font-size="27.8" text-anchor="end">20</text>
<text transform="translate(86.20,300.27) scale(1,1.035)" font-size="27.8" text-anchor="end">0</text>
<text transform="translate(86.20,401.00) scale(1,1.035)" font-size="27.8" text-anchor="end">20</text>
<rect x="39.8" y="392.15" width="13.0" height="2.5" fill="#000"/>
<text transform="translate(347.70,30.10) scale(1,1.04)" font-size="32.9" text-anchor="start">M</text>
<text transform="translate(375.11,30.10) scale(1,0.99)" font-size="32.9" text-anchor="start">erging points</text>
<text transform="translate(455.55,555.75) scale(1,1.0)" font-size="26.5" text-anchor="middle">l</text>
<text transform="translate(24.3,264.1) rotate(-90) scale(1,0.98)" font-size="27.5" text-anchor="middle"><tspan font-style="italic">a</tspan><tspan font-style="italic" font-size="19.7" dy="5">n</tspan><tspan dy="-5"> and </tspan><tspan font-style="italic">b</tspan><tspan font-style="italic" font-size="19.7" dy="5">n</tspan></text>
</svg></body></html>
